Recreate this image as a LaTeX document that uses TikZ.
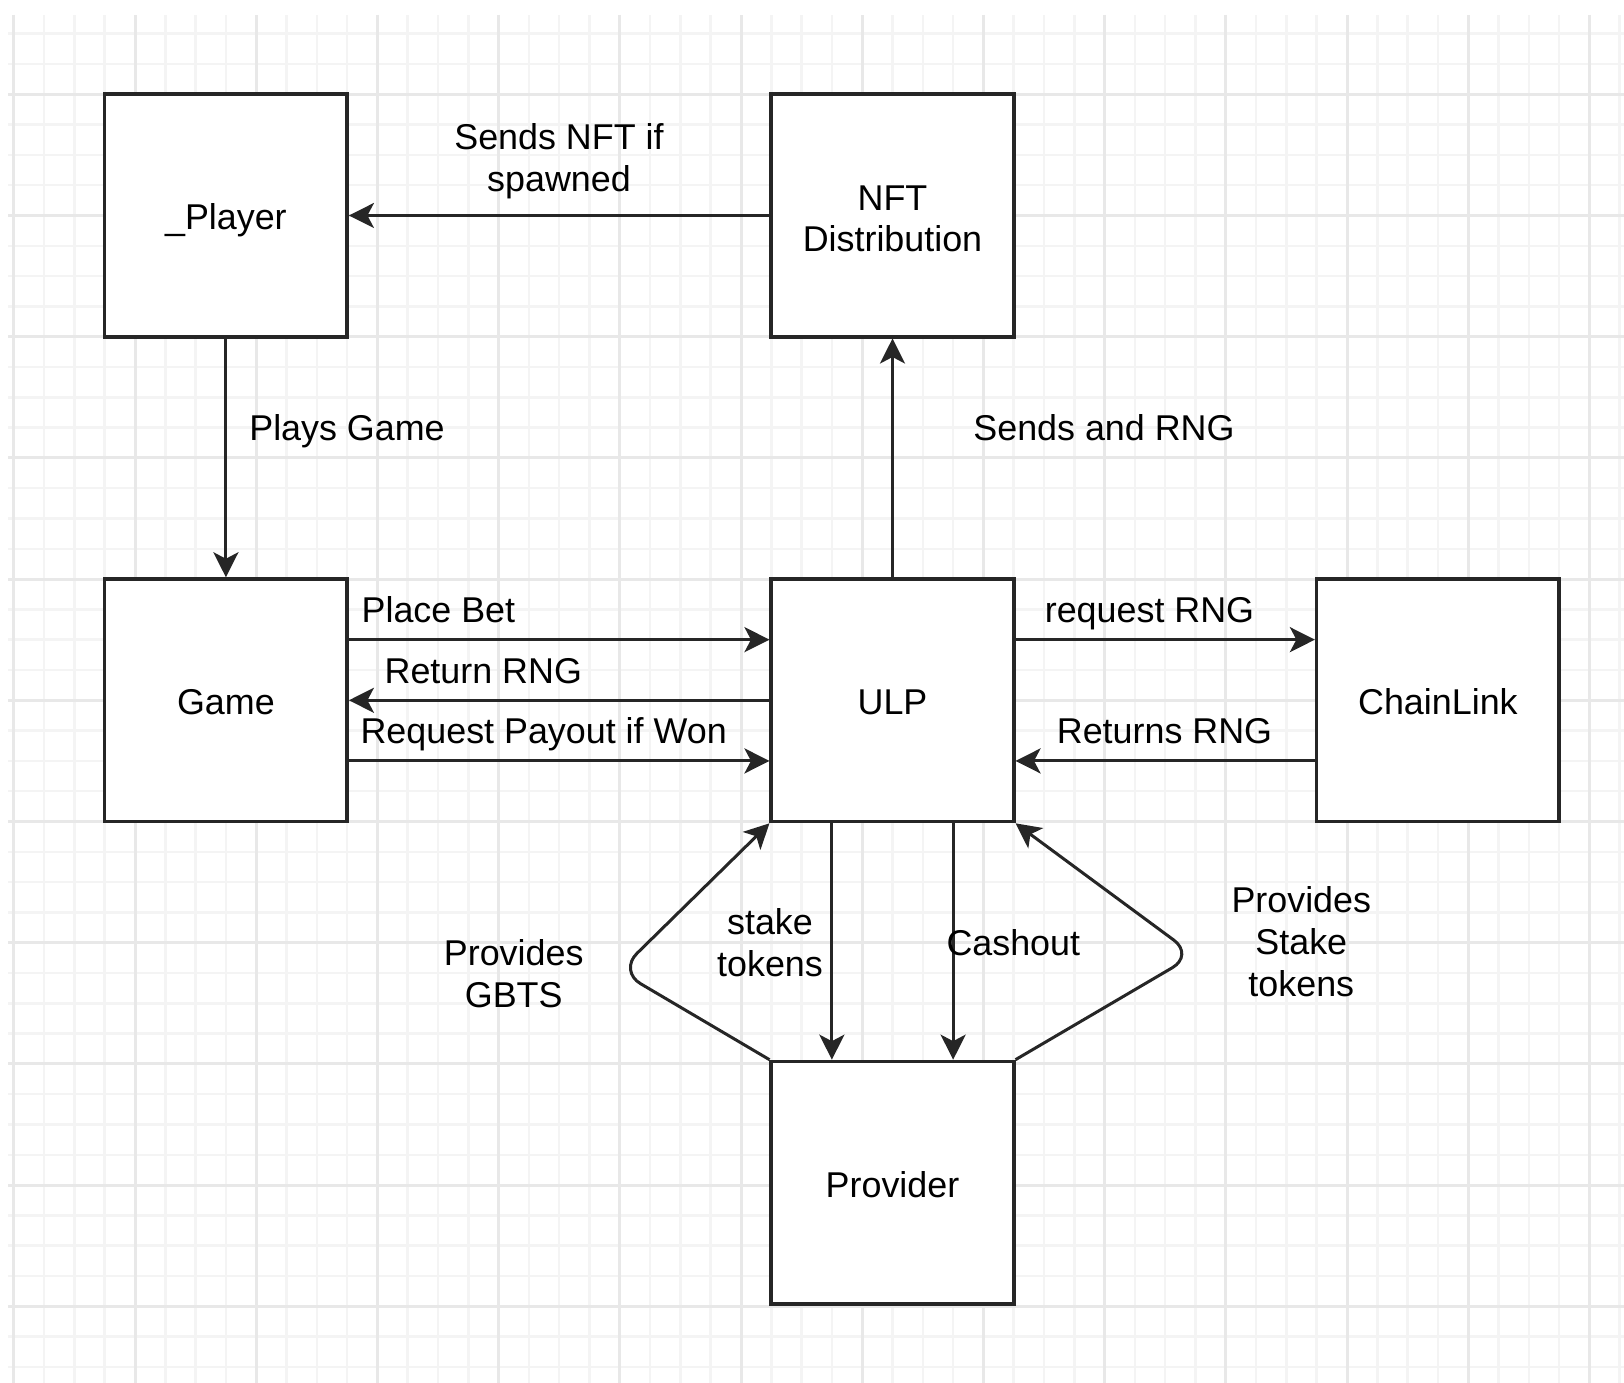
\documentclass[tikz,border=0pt]{standalone}
\usepackage{fontspec}
\setmainfont{Liberation Sans}
\usetikzlibrary{arrows.meta}
\tikzset{box/.style={draw=black!85, line width=0.035cm, fill=white, minimum width=2.424cm, minimum height=2.424cm, inner sep=0pt, text height=0.29cm, text depth=0pt}}
\tikzset{flow/.style={draw=black!85, line width=0.03cm, -{Stealth[length=0.25cm, width=0.25cm, inset=0.065cm]}}}
\tikzset{lbl/.style={inner sep=0pt, anchor=base}}
\tikzset{lbls/.style={inner sep=0pt, align=center}}
\tikzset{minorline/.style={draw=gray!9, line width=0.025cm}}
\tikzset{majorline/.style={draw=gray!18, line width=0.03cm}}

\begin{document}
\begin{tikzpicture}[x=0.01cm, y=-0.01cm, font=\fontsize{10.2}{11.9}\selectfont]
            \useasboundingbox (0,0) rectangle (1624,1383);
            % background grid
            \foreach \k in {0,...,53} {
                \draw[minorline] (13.8+30.3*\k, 15) -- (13.8+30.3*\k, 1383);
            }
            \foreach \k in {0,...,44} {
                \draw[minorline] (8, 33.7+30.3*\k) -- (1624, 33.7+30.3*\k);
            }
            \foreach \k in {0,4,...,52} {
                \draw[majorline] (13.8+30.3*\k, 15) -- (13.8+30.3*\k, 1383);
            }
            \foreach \k in {2,6,...,42} {
                \draw[majorline] (8, 33.7+30.3*\k) -- (1624, 33.7+30.3*\k);
            }
            % boxes
            \node[box] (player) at (225.9, 215.5) {\_Player};
            \node[box, align=center, text height=, text depth=] (nft) at (892.5, 215.5) {\rule{0pt}{0.315cm}NFT\\Distribution};
            \node[box] (game) at (225.9, 700.3) {Game};
            \node[box] (ulp) at (892.5, 700.3) {ULP};
            \node[box] (chain) at (1437.9, 700.3) {ChainLink};
            \node[box] (provider) at (892.5, 1182.7) {Provider};
            \coordinate (gbtsbend) at (619, 971);
            \coordinate (stakebend) at (1194, 955);
            % connectors
            \draw[flow] (nft) -- (player);
            \draw[flow] (player) -- (game);
            \draw[flow] (ulp) -- (nft);
            \draw[flow] ([yshift=0.606cm]game.east) -- ([yshift=0.606cm]ulp.west);
            \draw[flow] (ulp) -- (game);
            \draw[flow] ([yshift=-0.606cm]game.east) -- ([yshift=-0.606cm]ulp.west);
            \draw[flow] ([yshift=0.606cm]ulp.east) -- ([yshift=0.606cm]chain.west);
            \draw[flow] ([yshift=-0.606cm]chain.west) -- ([yshift=-0.606cm]ulp.east);
            \draw[flow] ([xshift=-0.606cm]ulp.south) -- ([xshift=-0.606cm]provider.north);
            \draw[flow] ([xshift=0.606cm]ulp.south) -- ([xshift=0.606cm]provider.north);
            \draw[flow, rounded corners=0.25cm] (provider.north west) -- (gbtsbend) -- (ulp.south west);
            \draw[flow, rounded corners=0.25cm] (provider.north east) -- (stakebend) -- (ulp.south east);
            % labels
            \node[lbls] (nftlbl) at (559, 161.4) {Sends NFT if\\spawned};
            \node[lbl] (playslbl) at (347, 441) {Plays Game};
            \node[lbl] (rnglbl) at (1104, 441) {Sends and RNG};
            \node[lbl] (betlbl) at (438.4, 622.7) {Place Bet};
            \node[lbl] (returnlbl) at (483.3, 683.3) {Return RNG};
            \node[lbl] (payoutlbl) at (543.7, 743.3) {Request Payout if Won};
            \node[lbl] (requestlbl) at (1149.5, 622.7) {request RNG};
            \node[lbl] (returnslbl) at (1164.5, 743.3) {Returns RNG};
            \node[lbl] (cashoutlbl) at (1013.3, 956) {Cashout};
            \node[lbls] (stakelbl) at (770, 942.8) {stake\\tokens};
            \node[lbls] (gbtslbl) at (513.7, 973.3) {Provides\\GBTS};
            \node[lbls] (providelbl) at (1301.3, 941.9) {Provides\\Stake\\tokens};
        \end{tikzpicture}
\end{document}
